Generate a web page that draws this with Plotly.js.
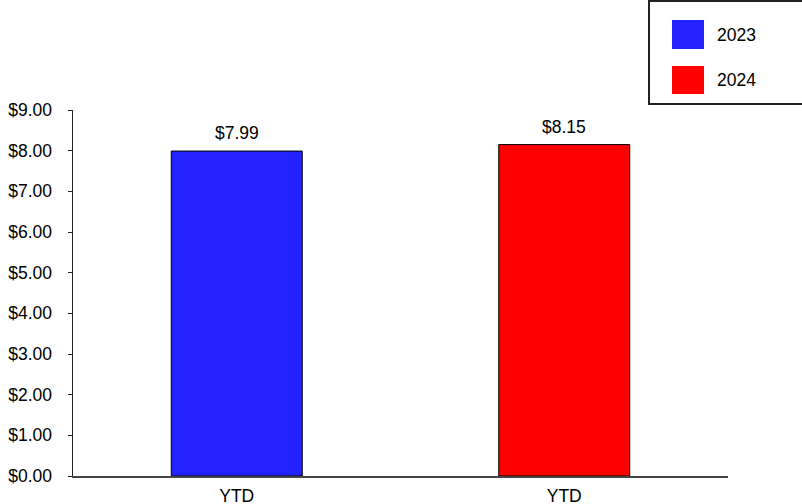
<!DOCTYPE html>
<html>
<head>
<meta charset="utf-8">
<script src="https://cdn.plot.ly/plotly-3.0.1.min.js"></script>
<style>html,body{margin:0;padding:0;background:#fff;}#chart{width:802px;height:504px;}</style>
</head>
<body>
<div id="chart"></div>
<script>
const categories = ["YTD", "YTD"];
const seriesNames = ["2023", "2024"];
const seriesValues = [7.99, 8.15];
const seriesColors = ["#2323FF", "#FF0000"];
const yTickVals = [0, 1, 2, 3, 4, 5, 6, 7, 8, 9];
const yTickText = ["$0.00", "$1.00", "$2.00", "$3.00", "$4.00", "$5.00", "$6.00", "$7.00", "$8.00", "$9.00"];

const FONT = "Liberation Sans, Arial, sans-serif";
const FS = 17.5;
const traces = seriesNames.map((name, i) => ({
  type: "bar",
  name: name,
  x: [i],
  y: [seriesValues[i]],
  width: [0.4],
  marker: { color: seriesColors[i], line: { color: "#000", width: 1 } },
  showlegend: false,
  hoverinfo: "none"
}));

// custom legend and value labels
const shapes = [{ type: "rect", xref: "paper", yref: "paper", x0: (649 - 73) / 655, x1: (803 - 73) / 655, y0: (476 - 104) / 366, y1: (476 - 1) / 366, line: { color: "#222", width: 2 }, fillcolor: "rgba(0,0,0,0)" }];
const annotations = [];
const legendRows = [[20, 49], [66, 94]];
seriesNames.forEach((name, i) => {
  const [t, b] = legendRows[i];
  shapes.push({ type: "rect", xref: "paper", yref: "paper", x0: (672 - 73) / 655, x1: (704 - 73) / 655, y0: (476 - b) / 366, y1: (476 - t) / 366, line: { width: 0 }, fillcolor: seriesColors[i] });
  annotations.push({ xref: "paper", yref: "paper", x: (715 - 73) / 655, y: (476 - (t + b) / 2) / 366, xanchor: "left", yanchor: "middle", text: name, showarrow: false, font: { family: FONT, size: FS, color: "#000" } });
  annotations.push({ xref: "x", yref: "y", x: i, y: seriesValues[i], xanchor: "center", yanchor: "middle", yshift: 18, text: "$" + seriesValues[i].toFixed(2), showarrow: false, font: { family: FONT, size: FS, color: "#000" } });
});

const layout = {
  width: 802, height: 504,
  margin: { l: 73, r: 74, t: 110, b: 28 },
  paper_bgcolor: "#fff", plot_bgcolor: "#fff",
  font: { family: FONT, size: FS, color: "#000" },
  barmode: "overlay",
  xaxis: {
    range: [-0.5, 1.5], tickvals: [0, 1], ticktext: categories,
    showgrid: false, zeroline: false, showline: true, linecolor: "#444", linewidth: 1.5,
    ticks: "", ticklabelstandoff: 3, fixedrange: true, tickfont: { family: FONT, size: FS }
  },
  yaxis: {
    range: [0, 9], tickvals: yTickVals, ticktext: yTickText,
    showgrid: false, zeroline: false, showline: true, linecolor: "#222", linewidth: 1.5,
    ticks: "outside", ticklen: 4, tickcolor: "#222", ticklabelstandoff: 12,
    fixedrange: true, tickfont: { family: FONT, size: FS }
  },
  shapes: shapes,
  annotations: annotations
};
Plotly.newPlot("chart", traces, layout, { displayModeBar: false, staticPlot: true });
</script>
</body>
</html>
